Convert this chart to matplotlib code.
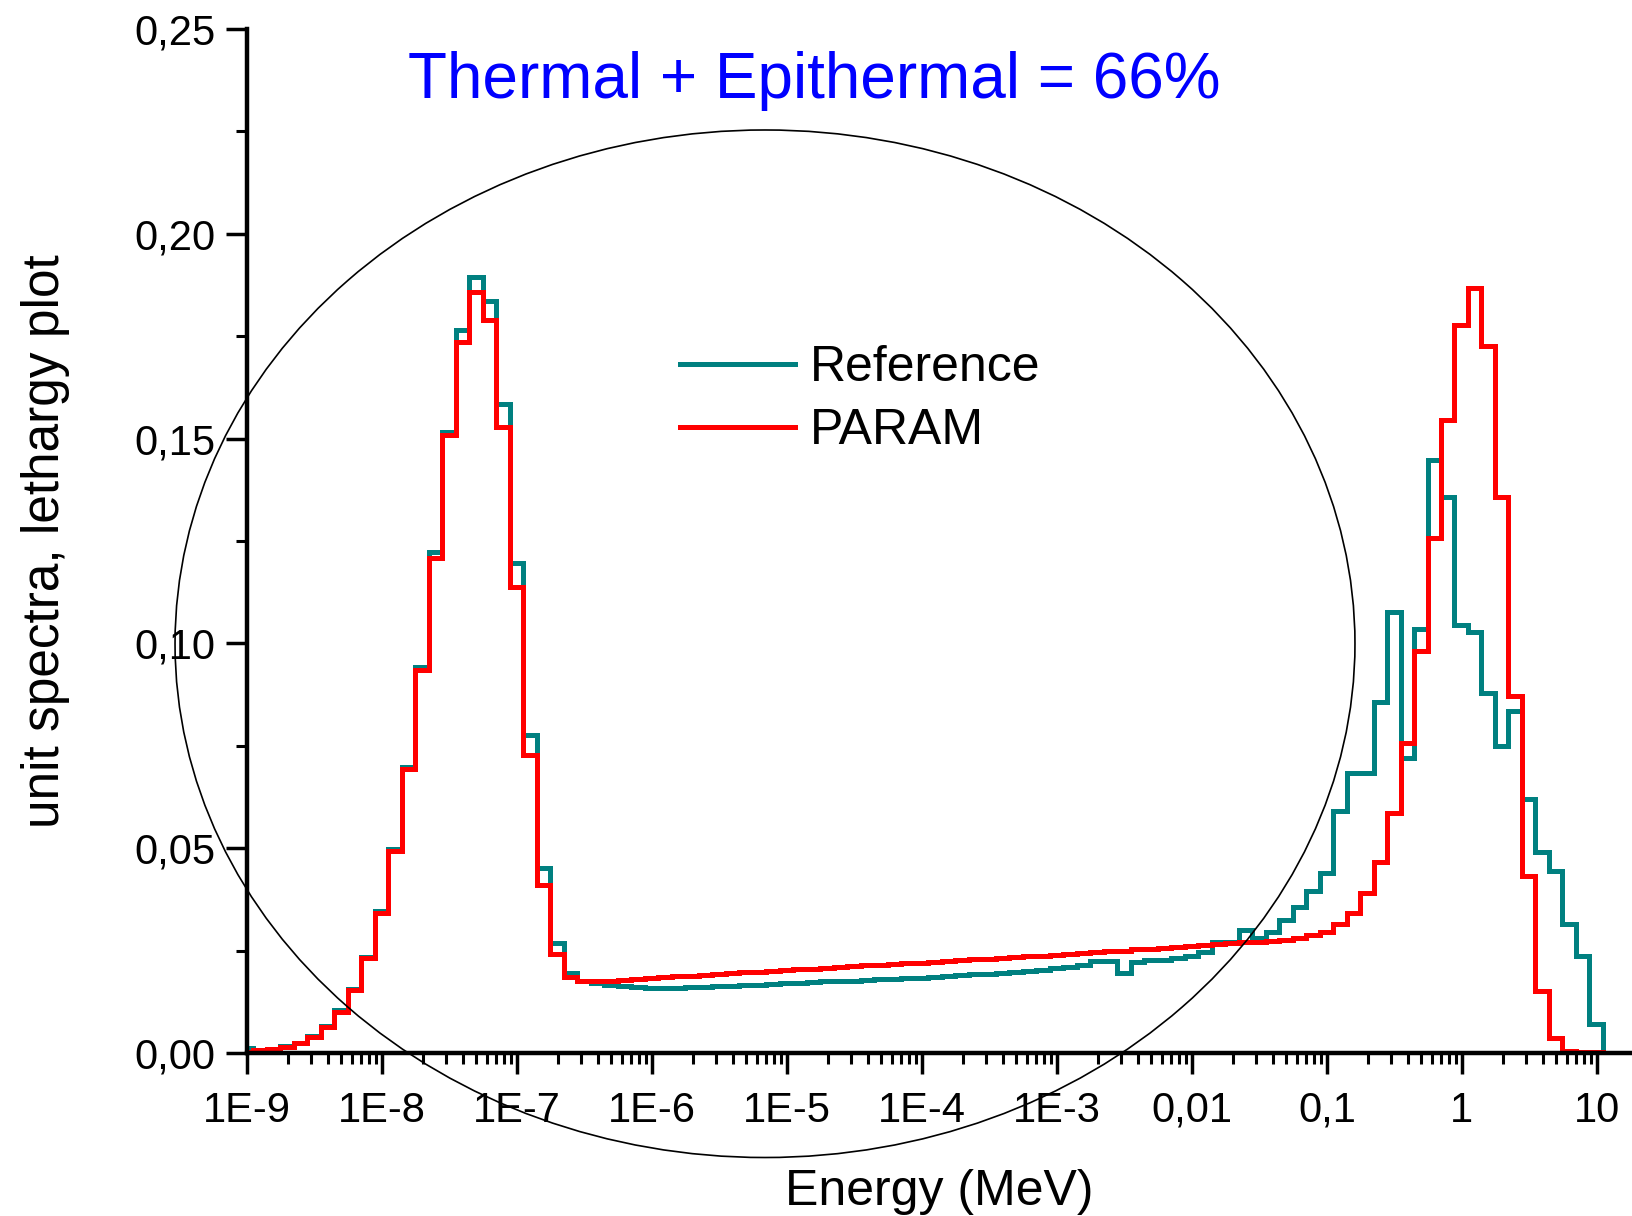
import numpy as np
import matplotlib
matplotlib.use("Agg")
import matplotlib.pyplot as plt
from matplotlib.patches import Ellipse
from matplotlib.ticker import LogLocator, MultipleLocator, FuncFormatter, NullFormatter

plt.rcParams['font.family'] = ['Liberation Sans', 'DejaVu Sans']

# group structure: 10 groups per decade, first edge just below 1E-9 MeV
first_edge_log = -9.055
groups_per_decade = 10

# unit spectra per lethargy, one value per group
reference = [
    0.0012, 0.0008, 0.0011, 0.0017, 0.0025, 0.0041, 0.0065, 0.0104, 0.0157, 0.0235,
    0.0347, 0.0497, 0.0698, 0.0942, 0.1222, 0.1517, 0.1765, 0.1895, 0.1837, 0.1584,
    0.1196, 0.0776, 0.0452, 0.0268, 0.0195, 0.0176, 0.0170, 0.0166, 0.0163, 0.0161,
    0.0160, 0.0160, 0.0160, 0.0161, 0.0162, 0.0163, 0.0164, 0.0165, 0.0167, 0.0168,
    0.0170, 0.0171, 0.0173, 0.0175, 0.0176, 0.0177, 0.0178, 0.0180, 0.0181, 0.0183,
    0.0184, 0.0186, 0.0188, 0.0190, 0.0192, 0.0194, 0.0196, 0.0198, 0.0200, 0.0203,
    0.0207, 0.0210, 0.0215, 0.0225, 0.0225, 0.0195, 0.0222, 0.0228, 0.0227, 0.0233,
    0.0238, 0.0246, 0.0272, 0.0272, 0.0300, 0.0280, 0.0296, 0.0325, 0.0357, 0.0395,
    0.0440, 0.0591, 0.0683, 0.0683, 0.0858, 0.1076, 0.0721, 0.1035, 0.1448, 0.1357,
    0.1045, 0.1028, 0.0880, 0.0750, 0.0836, 0.0619, 0.0491, 0.0445, 0.0315, 0.0237,
    0.0071, 0.0, 0.0, 0.0,
]

param = [
    0.0003, 0.0007, 0.0010, 0.0016, 0.0024, 0.0040, 0.0063, 0.0101, 0.0154, 0.0231,
    0.0343, 0.0493, 0.0693, 0.0934, 0.1208, 0.1509, 0.1737, 0.1859, 0.1790, 0.1529,
    0.1138, 0.0728, 0.0410, 0.0243, 0.0185, 0.0175, 0.0175, 0.0177, 0.0179, 0.0181,
    0.0183, 0.0185, 0.0187, 0.0189, 0.0191, 0.0193, 0.0195, 0.0197, 0.0199, 0.0200,
    0.0202, 0.0204, 0.0206, 0.0208, 0.0210, 0.0212, 0.0214, 0.0216, 0.0217, 0.0219,
    0.0221, 0.0223, 0.0225, 0.0227, 0.0229, 0.0230, 0.0232, 0.0234, 0.0236, 0.0238,
    0.0240, 0.0242, 0.0244, 0.0246, 0.0248, 0.0250, 0.0253, 0.0255, 0.0257, 0.0259,
    0.0262, 0.0264, 0.0266, 0.0268, 0.0270, 0.0272, 0.0274, 0.0276, 0.0280, 0.0287,
    0.0296, 0.0314, 0.0343, 0.0390, 0.0467, 0.0585, 0.0756, 0.0982, 0.1257, 0.1545,
    0.1777, 0.1867, 0.1726, 0.1357, 0.0872, 0.0432, 0.0152, 0.0036, 0.0005, 0.0003,
    0.0002, 0.0001, 0.0001, 0.0001,
]

xtick_values = [1e-9, 1e-8, 1e-7, 1e-6, 1e-5, 1e-4, 1e-3, 1e-2, 1e-1, 1, 10]
xtick_labels = ['1E-9', '1E-8', '1E-7', '1E-6', '1E-5', '1E-4', '1E-3', '0,01', '0,1', '1', '10']

title_text = 'Thermal + Epithermal = 66%'
xlabel_text = 'Energy (MeV)'
ylabel_text = 'unit spectra, lethargy plot'

n_groups = len(reference)
edges = 10 ** (first_edge_log + np.arange(n_groups + 1) / groups_per_decade)

fig = plt.figure(figsize=(16.32, 12.16), dpi=100)
ax = fig.add_axes([0.1514, 0.1340, 0.8486, 0.8422])

ax.stairs(reference, edges, baseline=None, color='#008080', lw=3.6, label='Reference')
ax.stairs(param, edges, baseline=None, color='#ff0000', lw=3.6, label='PARAM')

ax.set_xscale('log')
ax.set_xlim(1e-9, 10 ** 1.26)
ax.set_ylim(0, 0.25)

ax.spines['top'].set_visible(False)
ax.spines['right'].set_visible(False)
for s in ('left', 'bottom'):
    ax.spines[s].set_linewidth(3.2)

ax.set_xticks(xtick_values)
ax.set_xticklabels(xtick_labels)
ax.xaxis.set_minor_locator(LogLocator(base=10, subs=np.arange(2, 10), numticks=100))
ax.xaxis.set_minor_formatter(NullFormatter())
ax.yaxis.set_major_locator(MultipleLocator(0.05))
ax.yaxis.set_minor_locator(MultipleLocator(0.025))
ax.yaxis.set_major_formatter(FuncFormatter(lambda v, p: f"{v:.2f}".replace('.', ',')))

ax.tick_params(which='major', direction='out', length=15, width=2.5, labelsize=30)
ax.tick_params(which='minor', direction='out', length=8, width=2.2)
ax.tick_params(axis='x', which='major', pad=12)
ax.tick_params(axis='y', which='major', pad=8)

ax.set_xlabel(xlabel_text, fontsize=36, labelpad=28)
ax.set_ylabel(ylabel_text, fontsize=37, labelpad=46)

fig.text(0.499, 0.933, title_text, color='#0000ff', fontsize=46, ha='center', va='center')

ax.legend(loc='upper left', bbox_to_anchor=(0.4166, 0.716), bbox_transform=fig.transFigure,
          frameon=False, fontsize=36, handlelength=2.3, handletextpad=0.3,
          labelspacing=0.34, borderpad=0, borderaxespad=0)

ell = Ellipse((0.46875, 0.4706), 0.7230, 0.8450, transform=fig.transFigure,
              fill=False, edgecolor='black', lw=1.2, clip_on=False)
fig.patches.append(ell)

fig.savefig('out.png', dpi=100)
